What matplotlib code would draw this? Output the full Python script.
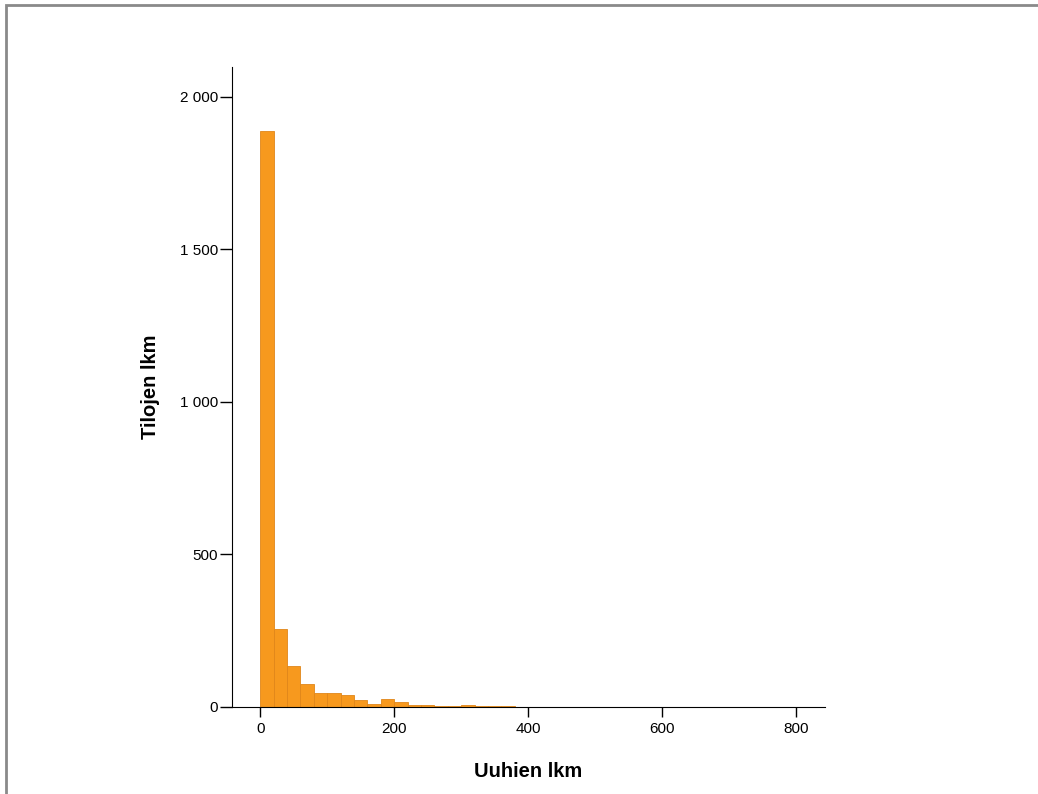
import numpy as np
import matplotlib
matplotlib.use("Agg")
from matplotlib import pyplot as plt
from matplotlib.patches import Rectangle
from matplotlib.ticker import FuncFormatter

plt.rcParams['font.family'] = ['Liberation Sans', 'DejaVu Sans']

# histogram bins (left edges, width 20) and counts
bin_width = 20
bin_edges = list(range(0, 800, 20))
counts = [1888, 256, 133, 76, 47, 45, 40, 23, 11, 25,
          15, 5, 6, 4, 4, 6, 4, 3, 4, 0,
          0, 0, 0, 1, 1, 0, 0, 0, 0, 0,
          0, 0, 0, 0, 0, 0, 1, 0, 1, 0]
x_ticks = [0, 200, 400, 600, 800]
y_ticks = [0, 500, 1000, 1500, 2000]
x_label = "Uuhien lkm"
y_label = "Tilojen lkm"

fig = plt.figure(figsize=(10.38, 7.94), dpi=100)
ax = fig.add_axes([0.2235, 0.1096, 0.5713, 0.806])

ax.bar(bin_edges, counts, width=bin_width, align='edge',
       color='#F7991E', edgecolor='#E0861A', linewidth=0.6)

ax.set_xlim(-42, 843)
ax.set_ylim(0, 2098)
ax.set_xticks(x_ticks)
ax.set_yticks(y_ticks)

def space_thousands(v, pos):
    return f"{int(v):,}".replace(",", " ")

ax.yaxis.set_major_formatter(FuncFormatter(space_thousands))
ax.tick_params(direction='out', width=1, labelsize=11, color='black')
ax.tick_params(axis='x', length=7.5, pad=3)
ax.tick_params(axis='y', length=9, pad=1)

for side in ['top', 'right']:
    ax.spines[side].set_visible(False)

ax.set_xlabel(x_label, fontsize=14.5, fontweight='bold', labelpad=19)
ax.set_ylabel(y_label, fontsize=14.5, fontweight='bold', labelpad=14)

# gray frame at the top and left edge
fig.patches.append(Rectangle((0.006, -0.1), 1.2, 1.094, transform=fig.transFigure,
                             fill=False, edgecolor='#8a8a8a', linewidth=2))

fig.savefig("out.png", dpi=100)
